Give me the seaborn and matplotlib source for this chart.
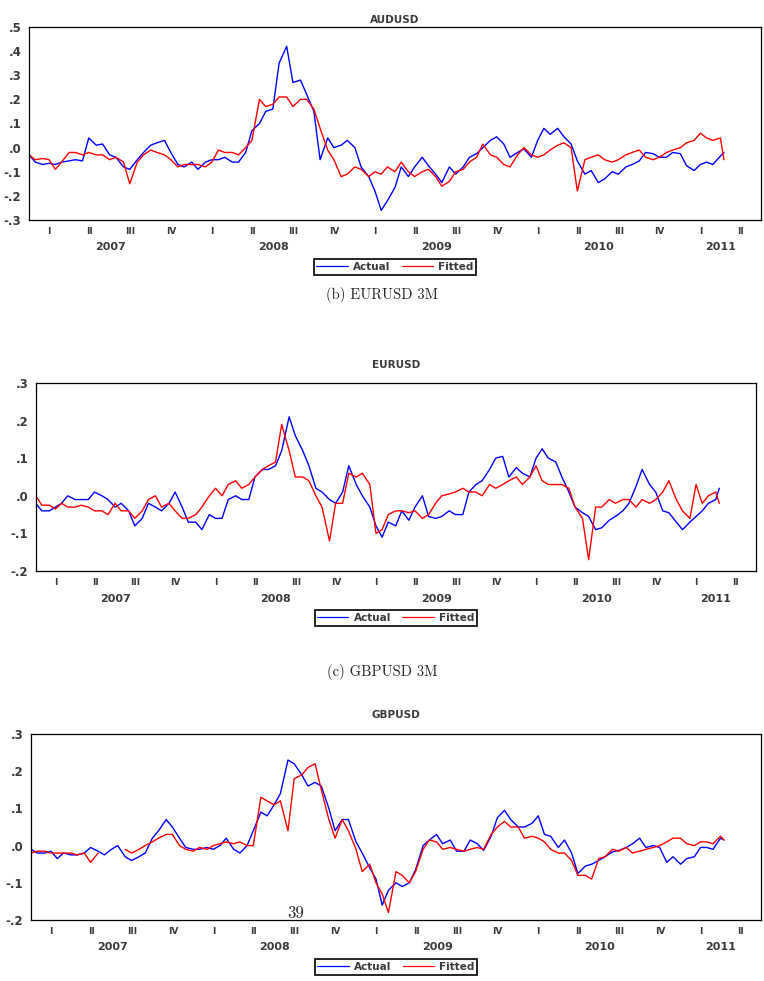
import numpy as np
import pandas as pd
import matplotlib
matplotlib.use("Agg")
import matplotlib.pyplot as plt
import matplotlib.dates as mdates
from matplotlib.ticker import FixedLocator, FuncFormatter, NullFormatter
from matplotlib.lines import Line2D
import seaborn as sns

# ---------------- data (semi-monthly readings) ----------------
DATES = list(pd.date_range("2007-01-01", "2011-04-01", freq="SMS")) + [pd.Timestamp("2011-04-09")]

AUD_ACTUAL = [
    -0.03, -0.06, -0.07, -0.065, -0.07, -0.06, -0.055, -0.05, -0.055, 0.04, 0.01, 0.015,
    -0.03, -0.04, -0.08, -0.09, -0.05, -0.02, 0.01, 0.02, 0.03, -0.02, -0.07, -0.08,
    -0.06, -0.09, -0.06, -0.05, -0.05, -0.04, -0.06, -0.06, -0.02, 0.07, 0.10, 0.15,
    0.16, 0.35, 0.42, 0.27, 0.28, 0.22, 0.15, -0.05, 0.04, 0.0, 0.01, 0.03,
    0.0, -0.08, -0.12, -0.18, -0.26, -0.22, -0.165, -0.08, -0.12, -0.08, -0.04, -0.075,
    -0.11, -0.145, -0.08, -0.11, -0.08, -0.04, -0.025, 0.0, 0.03, 0.045, 0.015, -0.04,
    -0.02, -0.005, -0.04, 0.03, 0.08, 0.055, 0.08, 0.045, 0.015, -0.055, -0.11, -0.095,
    -0.145, -0.13, -0.10, -0.11, -0.08, -0.07, -0.055, -0.02, -0.025, -0.04, -0.04, -0.02,
    -0.025, -0.075, -0.095, -0.07, -0.06, -0.07, -0.035, -0.02,
]
AUD_FITTED = [
    -0.03, -0.05, -0.045, -0.05, -0.09, -0.06, -0.02, -0.02, -0.03, -0.02, -0.03, -0.03,
    -0.05, -0.04, -0.06, -0.15, -0.06, -0.03, -0.01, -0.02, -0.03, -0.05, -0.08, -0.07,
    -0.07, -0.07, -0.08, -0.06, -0.01, -0.02, -0.02, -0.03, 0.0, 0.03, 0.20, 0.17,
    0.18, 0.21, 0.21, 0.17, 0.20, 0.20, 0.16, 0.08, -0.01, -0.05, -0.12, -0.11,
    -0.08, -0.09, -0.12, -0.10, -0.11, -0.08, -0.10, -0.06, -0.10, -0.12, -0.10, -0.09,
    -0.12, -0.16, -0.14, -0.10, -0.09, -0.06, -0.04, 0.015, -0.03, -0.04, -0.07, -0.08,
    -0.03, 0.0, -0.03, -0.04, -0.03, -0.01, 0.01, 0.02, 0.0, -0.18, -0.05, -0.04,
    -0.03, -0.05, -0.06, -0.05, -0.03, -0.02, -0.01, -0.04, -0.05, -0.04, -0.02, -0.01,
    0.0, 0.02, 0.03, 0.06, 0.04, 0.03, 0.04, -0.05,
]
EUR_ACTUAL = [
    -0.02, -0.04, -0.04, -0.03, -0.02, 0.0, -0.01, -0.01, -0.01, 0.01, 0.0, -0.01,
    -0.03, -0.02, -0.04, -0.08, -0.06, -0.02, -0.03, -0.04, -0.02, 0.01, -0.03, -0.07,
    -0.07, -0.09, -0.05, -0.06, -0.06, -0.01, 0.0, -0.01, -0.01, 0.05, 0.07, 0.07,
    0.08, 0.12, 0.21, 0.16, 0.12, 0.08, 0.02, 0.01, -0.01, -0.02, 0.01, 0.08,
    0.03, 0.0, -0.03, -0.08, -0.11, -0.07, -0.08, -0.04, -0.065, -0.03, 0.0, -0.055,
    -0.06, -0.055, -0.04, -0.05, -0.05, 0.01, 0.03, 0.04, 0.07, 0.10, 0.105, 0.05,
    0.075, 0.06, 0.05, 0.10, 0.125, 0.10, 0.09, 0.05, 0.01, -0.03, -0.045, -0.055,
    -0.09, -0.085, -0.065, -0.055, -0.04, -0.02, 0.025, 0.07, 0.03, 0.01, -0.04, -0.045,
    -0.07, -0.09, -0.07, -0.055, -0.04, -0.02, -0.01, 0.02,
]
EUR_FITTED = [
    0.0, -0.025, -0.025, -0.035, -0.02, -0.03, -0.03, -0.025, -0.03, -0.04, -0.04, -0.05,
    -0.02, -0.04, -0.04, -0.06, -0.04, -0.01, 0.0, -0.03, -0.02, -0.04, -0.06, -0.06,
    -0.05, -0.03, 0.0, 0.02, 0.0, 0.03, 0.04, 0.02, 0.03, 0.05, 0.07, 0.08,
    0.09, 0.19, 0.12, 0.05, 0.05, 0.04, 0.0, -0.03, -0.12, -0.02, -0.02, 0.06,
    0.05, 0.06, 0.03, -0.10, -0.09, -0.05, -0.04, -0.04, -0.045, -0.04, -0.06, -0.05,
    -0.02, 0.0, 0.005, 0.01, 0.02, 0.01, 0.01, 0.0, 0.03, 0.02, 0.03, 0.04,
    0.05, 0.03, 0.05, 0.08, 0.04, 0.03, 0.03, 0.03, 0.02, -0.03, -0.06, -0.17,
    -0.03, -0.03, -0.01, -0.02, -0.01, -0.01, -0.03, -0.01, -0.02, -0.01, 0.01, 0.04,
    -0.01, -0.04, -0.06, 0.03, -0.02, 0.0, 0.01, -0.02,
]
GBP_ACTUAL = [
    -0.01, -0.02, -0.02, -0.015, -0.035, -0.02, -0.025, -0.025, -0.02, -0.005, -0.015, -0.025,
    -0.01, 0.0, -0.03, -0.04, -0.03, -0.02, 0.02, 0.04, 0.07, 0.05, 0.02, -0.005,
    -0.01, -0.01, -0.005, -0.01, 0.0, 0.02, -0.01, -0.02, 0.0, 0.04, 0.09, 0.08,
    0.11, 0.14, 0.23, 0.22, 0.19, 0.16, 0.17, 0.16, 0.10, 0.04, 0.07, 0.07,
    0.01, -0.02, -0.06, -0.09, -0.16, -0.12, -0.10, -0.11, -0.10, -0.065, 0.0, 0.015,
    0.03, 0.005, 0.015, -0.015, -0.015, 0.015, 0.005, -0.013, 0.025, 0.075, 0.095, 0.07,
    0.05, 0.05, 0.06, 0.08, 0.03, 0.025, -0.005, 0.015, -0.02, -0.075, -0.055, -0.05,
    -0.04, -0.03, -0.017, -0.013, -0.005, 0.005, 0.02, -0.005, 0.0, -0.005, -0.045, -0.03,
    -0.05, -0.035, -0.03, -0.005, -0.005, -0.01, 0.02, 0.015,
]
GBP_FITTED = [
    -0.02, -0.015, -0.015, -0.02, -0.02, -0.02, -0.02, -0.025, -0.02, -0.045, -0.02, np.nan,
    np.nan, np.nan, -0.01, -0.02, -0.01, 0.0, 0.01, 0.02, 0.03, 0.03, 0.0, -0.01,
    -0.015, -0.005, -0.01, 0.0, 0.005, 0.01, 0.005, 0.01, 0.0, 0.0, 0.13, 0.12,
    0.11, 0.12, 0.04, 0.18, 0.19, 0.21, 0.22, 0.15, 0.07, 0.02, 0.07, 0.04,
    -0.01, -0.07, -0.05, -0.10, -0.13, -0.18, -0.07, -0.08, -0.10, -0.07, -0.01, 0.015,
    0.01, -0.01, -0.005, -0.01, -0.015, -0.01, -0.005, -0.01, 0.03, 0.05, 0.065, 0.05,
    0.05, 0.02, 0.025, 0.02, 0.01, -0.01, -0.02, -0.02, -0.04, -0.08, -0.08, -0.09,
    -0.035, -0.03, -0.01, -0.015, -0.005, -0.02, -0.015, -0.01, -0.005, 0.0, 0.01, 0.02,
    0.02, 0.005, 0.0, 0.01, 0.01, 0.005, 0.025, 0.015,
]

TITLES = ["AUDUSD", "EURUSD", "GBPUSD"]
CAPTIONS = ["(b) EURUSD 3M", "(c) GBPUSD 3M"]
SERIES_NAMES = ["Actual", "Fitted"]
QUARTER_LABELS = ["I", "II", "III", "IV"]
YEARS = [2007, 2008, 2009, 2010, 2011]
PAGE_NUMBER = "39"

# ---------------- styling / layout ----------------
sns.set_style("white")
plt.rcParams["font.family"] = ["DejaVu Sans"]
plt.rcParams["font.size"] = 7.5

W, H = 764, 981
fig = plt.figure(figsize=(W / 100, H / 100), dpi=100)

PALETTE = {"Actual": "#0000ff", "Fitted": "#ff0000"}
TEXT_COL = "#3a3a3a"
XMIN, XMAX = pd.Timestamp("2007-01-01"), pd.Timestamp("2011-07-01")

panels = [
    dict(title=TITLES[0], actual=AUD_ACTUAL, fitted=AUD_FITTED, ylim=(-0.3, 0.5),
         box=(29, 27, 761, 220), title_y=20),
    dict(title=TITLES[1], actual=EUR_ACTUAL, fitted=EUR_FITTED, ylim=(-0.2, 0.3),
         box=(35.7, 383, 755.7, 571), title_y=365),
    dict(title=TITLES[2], actual=GBP_ACTUAL, fitted=GBP_FITTED, ylim=(-0.2, 0.3),
         box=(31, 734, 761, 920), title_y=715),
]


def yfmt(v, pos):
    s = f"{round(v, 1) + 0.0:.1f}"
    return s.replace("0.", ".")


for p in panels:
    x0, y0, x1, y1 = p["box"]
    ax = fig.add_axes([x0 / W, 1 - y1 / H, (x1 - x0) / W, (y1 - y0) / H])
    ax_h_px = y1 - y0

    frames = []
    for name, vals in zip(SERIES_NAMES, [p["actual"], p["fitted"]]):
        v = pd.Series(vals, dtype=float)
        seg = v.isna().cumsum()
        frames.append(pd.DataFrame({"date": DATES, "value": v, "series": name, "seg": seg}))
    df = pd.concat(frames, ignore_index=True).dropna(subset=["value"])

    sns.lineplot(data=df, x="date", y="value", hue="series", units="seg",
                 estimator=None, palette=PALETTE, hue_order=SERIES_NAMES,
                 linewidth=1.0, ax=ax, legend=False, sort=False)

    ax.set_xlim(XMIN, XMAX)
    ax.set_ylim(*p["ylim"])
    lo, hi = p["ylim"]
    yt = [round(t, 1) for t in np.arange(lo, hi + 1e-9, 0.1)]
    ax.yaxis.set_major_locator(FixedLocator(yt))
    ax.yaxis.set_major_formatter(FuncFormatter(yfmt))
    ax.xaxis.set_major_locator(mdates.MonthLocator(bymonth=[1, 4, 7, 10]))
    ax.xaxis.set_minor_locator(mdates.MonthLocator())
    ax.xaxis.set_major_formatter(NullFormatter())
    ax.xaxis.set_minor_formatter(NullFormatter())
    ax.set_xlabel("")
    ax.set_ylabel("")
    ax.tick_params(axis="x", which="major", direction="out", length=4.5, width=1.0,
                   color="black")
    ax.tick_params(axis="x", which="minor", direction="out", length=3, width=0.9,
                   color="black")
    ax.tick_params(axis="y", direction="out", length=3.5, width=0.9, color="black",
                   labelsize=8.5, pad=2, labelcolor=TEXT_COL)
    for lab in ax.get_yticklabels():
        lab.set_fontweight("bold")
    for sp in ax.spines.values():
        sp.set_color("black")
        sp.set_linewidth(0.9)
    ax.grid(False)

    # quarter and year labels
    for yr in YEARS:
        for q in range(4):
            qs = pd.Timestamp(year=yr, month=3 * q + 1, day=1)
            qe = qs + pd.DateOffset(months=3)
            mid = qs + (qe - qs) / 2
            if mid < XMIN or mid > XMAX:
                continue
            ax.annotate(QUARTER_LABELS[q], xy=(mdates.date2num(mid), 0),
                        xycoords=("data", "axes fraction"), xytext=(0, -11.5),
                        textcoords="offset pixels", ha="center", va="center",
                        fontsize=6.5, fontweight="bold", color=TEXT_COL)
        ys = max(pd.Timestamp(year=yr, month=1, day=1), XMIN)
        ye = min(pd.Timestamp(year=yr + 1, month=1, day=1), XMAX)
        ymid = ys + (ye - ys) / 2
        ax.annotate(str(yr), xy=(mdates.date2num(ymid), 0),
                    xycoords=("data", "axes fraction"), xytext=(0, -27.5),
                    textcoords="offset pixels", ha="center", va="center",
                    fontsize=8, fontweight="bold", color=TEXT_COL)

    # title
    fig.text(((x0 + x1) / 2) / W, 1 - p["title_y"] / H, p["title"], ha="center",
             va="center", fontsize=7.5, fontweight="bold", color=TEXT_COL)

    # legend
    handles = [Line2D([], [], color=PALETTE[n], lw=0.9) for n in SERIES_NAMES]
    leg = ax.legend(handles, SERIES_NAMES, loc="center",
                    bbox_to_anchor=(0.5, -47 / ax_h_px), ncol=2, frameon=True,
                    fancybox=False, edgecolor="black", framealpha=1,
                    handlelength=3.0, columnspacing=1.1, borderpad=0.25,
                    handletextpad=0.5, prop={"size": 7.5, "weight": "bold"})
    for t in leg.get_texts():
        t.set_color(TEXT_COL)
    leg.get_frame().set_linewidth(1.2)

# captions and page number
serif = ["cmr10", "DejaVu Serif"]
fig.text(382 / W, 1 - 295 / H, CAPTIONS[0], ha="center", va="center", fontsize=10.5, family=serif)
fig.text(382 / W, 1 - 672 / H, CAPTIONS[1], ha="center", va="center", fontsize=10.5, family=serif)
fig.text(296 / W, 1 - 913 / H, PAGE_NUMBER, ha="center", va="center", fontsize=12, family=serif)

fig.savefig("out.png", dpi=100)
